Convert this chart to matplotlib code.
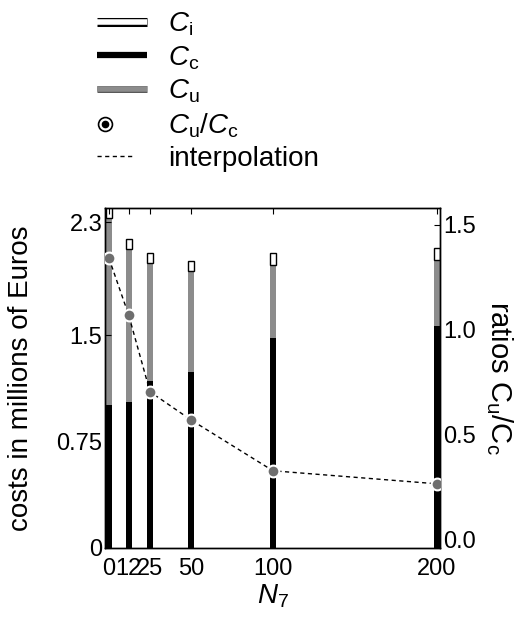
import matplotlib
matplotlib.use('Agg')
import matplotlib.pyplot as plt
import matplotlib.patheffects as pe
from matplotlib.lines import Line2D
from matplotlib.legend_handler import HandlerLine2D
import numpy as np

plt.rcParams['font.family'] = ['Liberation Sans', 'DejaVu Sans']
plt.rcParams['mathtext.fontset'] = 'custom'
plt.rcParams['mathtext.rm'] = 'Liberation Sans'
plt.rcParams['mathtext.it'] = 'Liberation Sans:italic'

# Daten
n7 = [0, 12, 25, 50, 100, 200]
tick_labels = ['0', '12', '25', '50', '100', '200']
cost_c = [1.01, 1.03, 1.18, 1.24, 1.48, 1.57]       # C_c (schwarz)
cost_u = [1.32, 1.08, 0.83, 0.715, 0.52, 0.46]      # C_u (grau)
cost_i = [0.10, 0.07, 0.07, 0.07, 0.08, 0.09]       # C_i (weiss)
ratio_uc = [1.34, 1.07, 0.705, 0.571, 0.329, 0.267] # C_u/C_c


class LeftHandler(HandlerLine2D):
    # Legendensymbol links ausgerichtet bzw. verkuerzt
    def __init__(self, frac=0.0, **kw):
        super().__init__(**kw)
        self.frac = frac

    def get_xdata(self, legend, xdescent, ydescent, width, height, fontsize):
        x0 = -xdescent
        if self.frac == 0.0:
            x = x0 + 0.3 * fontsize
            return np.array([x, x]), np.array([x])
        return np.array([x0, x0 + self.frac * width]), np.array([x0])


fig = plt.figure(figsize=(5.28, 6.17), dpi=100)
ax = fig.add_axes([0.199, 0.112, 0.6345, 0.551])

bw = 3.7
bottom_u = [c for c in cost_c]
bottom_i = [c + u for c, u in zip(cost_c, cost_u)]
ax.bar(n7, cost_c, bw, color='black', linewidth=0)
ax.bar(n7, cost_u, bw, bottom=bottom_u, color='#8c8c8c', linewidth=0)
ax.bar(n7, cost_i, bw, bottom=bottom_i, color='white', edgecolor='black', linewidth=1)

ax.set_xlim(-2.4, 201.9)
ax.set_ylim(0, 2.4)
ax.set_xticks(n7)
ax.set_xticklabels(tick_labels)
ax.set_yticks([0, 0.75, 1.5, 2.3])
ax.set_yticklabels(['0', '0.75', '1.5', '2.3'])
ax.tick_params(direction='in', top=True, right=False, labelsize=17, length=4, pad=2)
ax.tick_params(axis='x', pad=7)
ax.set_ylabel('costs in millions of Euros', fontsize=20, labelpad=16)
ax.set_xlabel(r'$N_7$', fontsize=20, labelpad=2)

# Verhaeltnis C_u/C_c auf rechter Achse
ax2 = ax.twinx()
ax2.plot(n7, ratio_uc, color='black', linestyle='--', dashes=(3, 2.5), linewidth=1,
         marker='o', markerfacecolor='#6e6e6e', markeredgecolor='white',
         markeredgewidth=1.5, markersize=8.5, zorder=3)
ax2.set_ylim(-0.038, 1.58)
ax2.set_yticks([0, 0.5, 1.0, 1.5])
ax2.set_yticklabels(['0.0', '0.5', '1.0', '1.5'])
ax2.tick_params(direction='in', labelsize=17, length=4, pad=2)
ax2.set_ylabel(r'ratios C$_\mathrm{u}$/C$_\mathrm{c}$', fontsize=21, rotation=270,
               va='bottom', labelpad=6)

for a in (ax, ax2):
    for s in a.spines.values():
        s.set_linewidth(1)

# Legende oben
h_i = Line2D([], [], color='white', linewidth=4, solid_capstyle='butt',
             path_effects=[pe.Stroke(linewidth=6.5, foreground='black'), pe.Normal()])
h_c = Line2D([], [], color='black', linewidth=4.5, solid_capstyle='butt')
h_u = Line2D([], [], color='#8c8c8c', linewidth=4, solid_capstyle='butt',
             path_effects=[pe.Stroke(linewidth=5, foreground='#555555'), pe.Normal()])
h_r1 = Line2D([], [], linestyle='none', marker='o', markersize=10,
              markerfacecolor='white', markeredgecolor='black', markeredgewidth=1.2)
h_r2 = Line2D([], [], linestyle='none', marker='o', markersize=4.5, color='black')
h_l = Line2D([], [], color='black', linestyle='--', dashes=(3, 2.5), linewidth=1)

fig.legend([h_i, h_c, h_u, (h_r1, h_r2), h_l],
           [r'$C_\mathrm{i}$', r'$C_\mathrm{c}$', r'$C_\mathrm{u}$',
            r'$C_\mathrm{u}/C_\mathrm{c}$', 'interpolation'],
           handler_map={h_r1: LeftHandler(), h_r2: LeftHandler(),
                        h_l: LeftHandler(frac=0.7)},
           loc='upper left', bbox_to_anchor=(0.152, 1.01), frameon=False,
           fontsize=20, handlelength=1.8, handletextpad=0.75, labelspacing=0.22,
           borderpad=0.1)

plt.savefig('out.png', dpi=100)
